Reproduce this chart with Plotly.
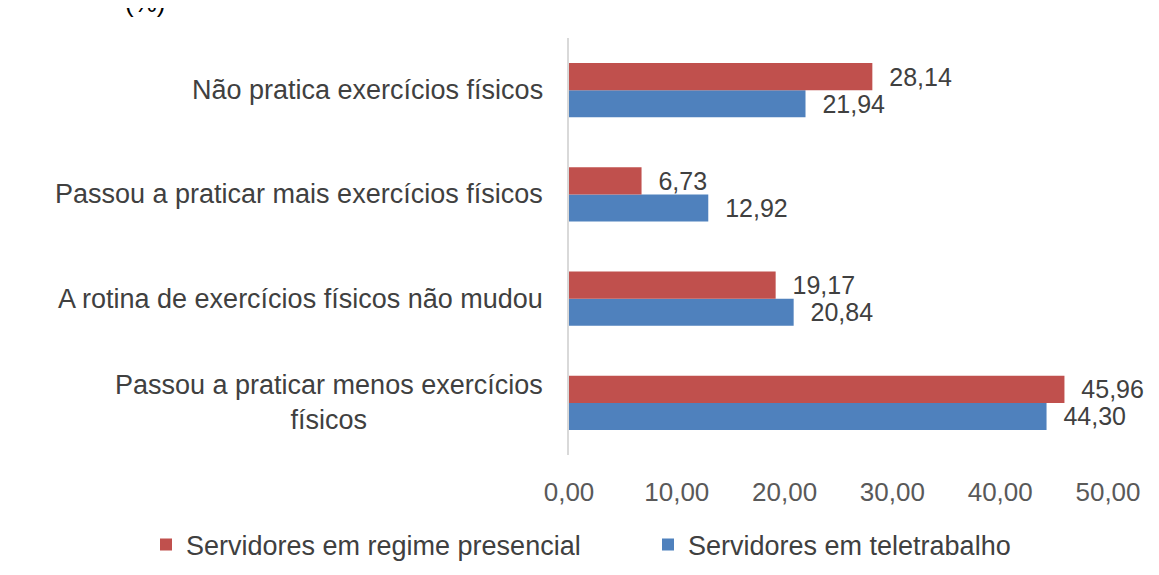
import plotly.graph_objects as go

# categorias de baixo para cima (ordem do eixo do plotly)
categorias = [
    "Passou a praticar menos exercícios<br>físicos",
    "A rotina de exercícios físicos não mudou",
    "Passou a praticar mais exercícios físicos",
    "Não pratica exercícios físicos",
]
presencial = [45.96, 19.17, 6.73, 28.14]
teletrabalho = [44.30, 20.84, 12.92, 21.94]
x_ticks = [0, 10, 20, 30, 40, 50]

FONTE = "Liberation Sans, Arial, sans-serif"
ESP = "\u00a0\u00a0"  # espaço entre a barra e o rótulo

fig = go.Figure()

# azul primeiro -> fica embaixo dentro do grupo
fig.add_trace(go.Bar(
    y=categorias, x=teletrabalho, orientation="h",
    name="Servidores em teletrabalho",
    marker=dict(color="#4F81BD", line=dict(width=0)),
    texttemplate=ESP + "%{x:.2f}", textposition="outside", constraintext="none",
    textfont=dict(size=25, color="#404040", family=FONTE),
    cliponaxis=False, legend="legend2",
))
fig.add_trace(go.Bar(
    y=categorias, x=presencial, orientation="h",
    name="Servidores em regime presencial",
    marker=dict(color="#C0504D", line=dict(width=0)),
    texttemplate=ESP + "%{x:.2f}", textposition="outside", constraintext="none",
    textfont=dict(size=25, color="#404040", family=FONTE),
    cliponaxis=False, legend="legend",
))

# rótulos das categorias como anotações (permite centralizar a quebra de linha)
for cat in categorias:
    fig.add_annotation(
        x=0, xref="paper", y=cat, yref="y",
        text=cat, showarrow=False, xanchor="right", yanchor="middle",
        align="center", xshift=-24,
        font=dict(size=27, color="#404040", family=FONTE),
    )

# título cortado no topo
fig.add_annotation(
    x=-0.787, xref="paper", y=1.083, yref="paper",
    text="(%)", showarrow=False, xanchor="center", yanchor="middle",
    font=dict(size=26, color="#000000", family=FONTE),
)

leg = dict(
    orientation="h", xref="container", yref="container",
    xanchor="left", yanchor="middle",
    font=dict(size=27, color="#404040", family=FONTE),
    bgcolor="rgba(0,0,0,0)",
)

fig.update_layout(
    width=1159, height=575,
    margin=dict(l=561, r=59, t=30, b=128, autoexpand=False),
    paper_bgcolor="white", plot_bgcolor="white",
    barmode="group", bargap=0.48, bargroupgap=0,
    separators=",.",
    showlegend=True,
    legend=dict(leg, x=138 / 1159, y=0.066),
    legend2=dict(leg, x=640 / 1159, y=0.066),
    xaxis=dict(
        range=[0, 50], tickvals=x_ticks, tickformat=".2f",
        showgrid=False, zeroline=False, showline=False,
        ticks="outside", ticklen=0, ticklabelstandoff=14,
        tickfont=dict(size=26, color="#595959", family=FONTE),
    ),
    yaxis=dict(
        showticklabels=False, showgrid=False, zeroline=False,
        showline=True, linecolor="#D9D9D9", linewidth=2,
        ticks="",
    ),
    font=dict(family=FONTE),
)

fig.write_html("out.html")
